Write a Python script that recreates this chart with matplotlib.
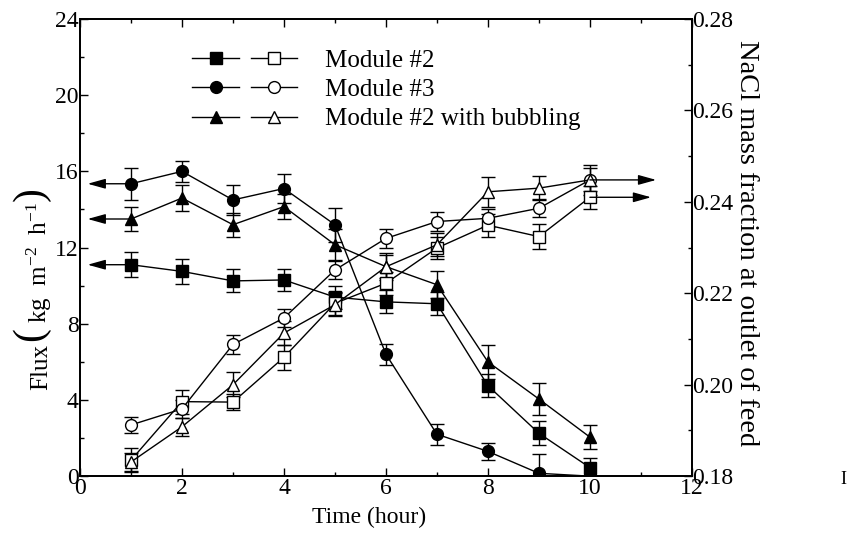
import matplotlib
matplotlib.use("Agg")
import matplotlib.pyplot as plt
from matplotlib.lines import Line2D
from matplotlib.legend_handler import HandlerTuple
from matplotlib.ticker import MultipleLocator

plt.rcParams['font.family'] = ['Liberation Serif', 'DejaVu Serif']
plt.rcParams['mathtext.fontset'] = 'custom'
plt.rcParams['mathtext.rm'] = 'Liberation Serif'
plt.rcParams['mathtext.it'] = 'Liberation Serif:italic'
plt.rcParams['mathtext.fallback'] = 'stix'

# ---------------- data ----------------
time_h = [1, 2, 3, 4, 5, 6, 7, 8, 9, 10]

flux_m2 = [11.1, 10.75, 10.25, 10.3, 9.4, 9.15, 9.05, 4.75, 2.25, 0.45]
flux_m2_err = [0.65, 0.65, 0.6, 0.6, 0.6, 0.6, 0.6, 0.62, 0.62, 0.5]
flux_m3 = [15.35, 16.0, 14.5, 15.1, 13.2, 6.4, 2.2, 1.3, 0.15, 0.0]
flux_m3_err = [0.85, 0.55, 0.8, 0.75, 0.9, 0.55, 0.55, 0.45, 1.0, 0.0]
flux_m2b = [13.5, 14.6, 13.2, 14.15, 12.15, 11.0, 10.05, 6.0, 4.05, 2.05]
flux_m2b_err = [0.65, 0.7, 0.64, 0.64, 0.8, 0.7, 0.7, 0.88, 0.84, 0.65]

nacl_m2 = [0.1835, 0.1963, 0.1962, 0.2060, 0.2178, 0.2222, 0.2299, 0.2349, 0.2324, 0.2410]
nacl_m2_err = [0.0026, 0.0026, 0.0018, 0.0027, 0.0025, 0.0025, 0.0025, 0.0025, 0.0027, 0.0025]
nacl_m3 = [0.1912, 0.1947, 0.2088, 0.2146, 0.2251, 0.2320, 0.2357, 0.2364, 0.2386, 0.2448]
nacl_m3_err = [0.0017, 0.0020, 0.0020, 0.0020, 0.0020, 0.0020, 0.0020, 0.0020, 0.0020, 0.0033]
nacl_m2b = [0.1831, 0.1908, 0.2000, 0.2113, 0.2175, 0.2258, 0.2306, 0.2422, 0.2430, 0.2448]
nacl_m2b_err = [0.0020, 0.0020, 0.0027, 0.0027, 0.0025, 0.0025, 0.0025, 0.0033, 0.0026, 0.0025]

labels = ['Module #2', 'Module #3', 'Module #2 with bubbling']
markers = ['s', 'o', '^']

# arrow tip positions (x) for the axis-indicating arrows
left_arrow_tip = 0.15
right_arrow_tip = [11.2, 11.3]

# ---------------- figure ----------------
W, H = 851, 535
fig = plt.figure(figsize=(W / 100, H / 100), dpi=100)
ax = fig.add_axes([0.094, 0.110, 0.719, 0.8545])
ax2 = ax.twinx()

ms = 8.5
common = dict(color='k', lw=1.0, elinewidth=1.0, capsize=5, capthick=1.0)

flux_sets = [(flux_m2, flux_m2_err), (flux_m3, flux_m3_err), (flux_m2b, flux_m2b_err)]
nacl_sets = [(nacl_m2, nacl_m2_err), (nacl_m3, nacl_m3_err), (nacl_m2b, nacl_m2b_err)]

for (y, e), m in zip(flux_sets, markers):
    ax.errorbar(time_h, y, yerr=e, marker=m, ms=ms, mfc='k', mec='k', **common)
for (y, e), m in zip(nacl_sets, markers):
    ax2.errorbar(time_h, y, yerr=e, marker=m, ms=ms, mfc='white', mec='k', mew=1.0, **common)

# axis indicator arrows
aprops = dict(arrowstyle='-|>,head_length=0.9,head_width=0.25', color='k', lw=1.0,
              shrinkA=0, shrinkB=0, mutation_scale=12)
for (y, e) in flux_sets:
    ax.annotate('', xy=(left_arrow_tip, y[0]), xytext=(time_h[0] - 0.05, y[0]),
                arrowprops=aprops)
for (y, e), tip in zip(nacl_sets[:2], right_arrow_tip):
    ax2.annotate('', xy=(tip, y[-1]), xytext=(time_h[-1], y[-1]), arrowprops=aprops)

# axes setup
ax.set_xlim(0, 12)
ax.set_ylim(0, 24)
ax2.set_ylim(0.18, 0.28)
ax.xaxis.set_major_locator(MultipleLocator(2))
ax.xaxis.set_minor_locator(MultipleLocator(1))
ax.yaxis.set_major_locator(MultipleLocator(4))
ax.yaxis.set_minor_locator(MultipleLocator(2))
ax2.yaxis.set_major_locator(MultipleLocator(0.02))
ax2.yaxis.set_minor_locator(MultipleLocator(0.01))
ax2.yaxis.set_major_formatter(plt.FuncFormatter(lambda v, p: f"{v:.2f}"))

for a in (ax, ax2):
    a.tick_params(which='major', direction='in', length=6, width=1.0, labelsize=17)
    a.tick_params(which='minor', direction='in', length=3, width=1.0)
    for s in a.spines.values():
        s.set_linewidth(1.3)
ax.tick_params(axis='x', which='both', top=True, pad=1)
ax.tick_params(axis='y', pad=1)
ax2.tick_params(axis='y', pad=0)

ax.set_xlabel('Time (hour)', fontsize=17, va='center')
ax.xaxis.set_label_coords(0.472, -0.09)
ax2.set_ylabel('NaCl mass fraction at outlet of feed', fontsize=20.5, rotation=-90,
               va='center')
ax2.yaxis.set_label_coords(1.09, 0.51)

# left axis label built from pieces (large parentheses as in the reference)
renderer = fig.canvas.get_renderer()
pieces = [('Flux', 18, 47, 'baseline', 3),
          ('(', 30, 31, 'center', 4),
          (r'kg  m$^{-2}$  h$^{-1}$', 18, 47, 'baseline', 1),
          (')', 30, 31, 'center', 0)]
ypix = 390.0
for s, fs, xpix, va, gap in pieces:
    t = fig.text(xpix / W, 1 - ypix / H, s, fontsize=fs, rotation=90,
                 rotation_mode='anchor', ha='left', va=va)
    bb = t.get_window_extent(renderer)
    ypix -= bb.height + gap

# legend
hf = [Line2D([], [], color='k', lw=1.0, marker=m, ms=ms, mfc='k', mec='k') for m in markers]
ho = [Line2D([], [], color='k', lw=1.0, marker=m, ms=ms, mfc='white', mec='k') for m in markers]
leg = ax.legend([(f, o) for f, o in zip(hf, ho)], labels,
                handler_map={tuple: HandlerTuple(ndivide=None, pad=0.5)},
                loc='upper left', bbox_to_anchor=(0.147, 0.983), frameon=False,
                fontsize=18, handlelength=4.2, handletextpad=1.1, labelspacing=0.27)

fig.text(843 / W, 1 - 479 / H, 'I', fontsize=13, ha='center', va='center')

fig.savefig('out.png', dpi=100)
